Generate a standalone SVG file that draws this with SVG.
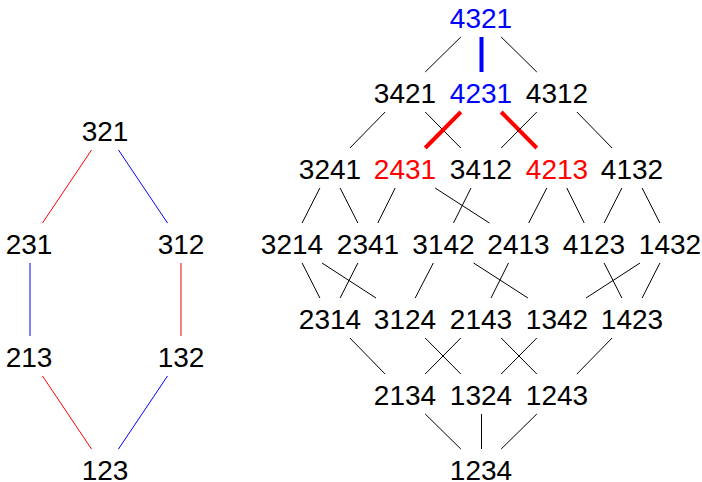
<svg xmlns="http://www.w3.org/2000/svg" width="702" height="482" viewBox="0 0 702 482">
<style>
text{font-family:"Liberation Sans",Arial,sans-serif;font-size:28px;text-anchor:middle;fill:#000}
.b{fill:#0000ff}.r{fill:#ff0000}
line{stroke:#000;stroke-width:1}
.lr{stroke:#ff0000}.lb{stroke:#0000ff}
.tb{stroke:#0000ff;stroke-width:4}.tr{stroke:#ff0000;stroke-width:4}
</style>
<rect width="702" height="482" fill="#fff"/>
<g id="connectors">
<line class="lr" x1="91.5" y1="150" x2="42.5" y2="223"/>
<line class="lb" x1="118.5" y1="150" x2="167.5" y2="223"/>
<line class="lb" x1="30" y1="263" x2="30" y2="336"/>
<line class="lr" x1="181" y1="263" x2="181" y2="336"/>
<line class="lr" x1="42.5" y1="376" x2="91.5" y2="449"/>
<line class="lb" x1="167.5" y1="376" x2="118.5" y2="449"/>

<line x1="460.8" y1="37" x2="425.2" y2="72"/>
<line class="tb" x1="481.5" y1="37" x2="481.5" y2="72"/>
<line x1="501.2" y1="37" x2="536.8" y2="72"/>

<line x1="385.1" y1="112" x2="349.9" y2="148"/>
<line x1="425.2" y1="112" x2="460.8" y2="148"/>
<line class="tr" x1="460.8" y1="112" x2="425.2" y2="148"/>
<line class="tr" x1="501.2" y1="112" x2="536.8" y2="148"/>
<line x1="536.8" y1="112" x2="501.2" y2="148"/>
<line x1="576.9" y1="112" x2="612.1" y2="148"/>

<line x1="319.9" y1="188" x2="302.1" y2="223"/>
<line x1="340.1" y1="188" x2="357.9" y2="223"/>
<line x1="395.2" y1="188" x2="377.8" y2="223"/>
<line x1="435.1" y1="188" x2="489.4" y2="223"/>
<line x1="471" y1="188" x2="453.5" y2="223"/>
<line x1="546.8" y1="188" x2="528.7" y2="223"/>
<line x1="566.8" y1="188" x2="584.2" y2="223"/>
<line x1="621.9" y1="188" x2="604.1" y2="223"/>
<line x1="642.1" y1="188" x2="659.9" y2="223"/>

<line x1="302.1" y1="263" x2="319.9" y2="298"/>
<line x1="322" y1="263" x2="376" y2="298"/>
<line x1="357.9" y1="263" x2="340.1" y2="298"/>
<line x1="473.6" y1="263" x2="527.9" y2="298"/>
<line x1="433.3" y1="263" x2="415.2" y2="298"/>
<line x1="508.5" y1="263" x2="491" y2="298"/>
<line x1="604.1" y1="263" x2="621.9" y2="298"/>
<line x1="640" y1="263" x2="586" y2="298"/>
<line x1="659.9" y1="263" x2="642.1" y2="298"/>

<line x1="349.9" y1="338" x2="385.1" y2="374"/>
<line x1="425.2" y1="338" x2="460.8" y2="374"/>
<line x1="460.8" y1="338" x2="425.2" y2="374"/>
<line x1="501.2" y1="338" x2="536.8" y2="374"/>
<line x1="536.8" y1="338" x2="501.2" y2="374"/>
<line x1="612.1" y1="338" x2="576.9" y2="374"/>

<line x1="425.2" y1="414" x2="460.8" y2="449"/>
<line x1="481.5" y1="414" x2="481.5" y2="449"/>
<line x1="536.8" y1="414" x2="501.2" y2="449"/>
</g>
<g id="n321"><text x="105" y="141">321</text></g>
<g id="n231"><text x="29" y="254">231</text></g>
<g id="n312"><text x="181" y="254">312</text></g>
<g id="n213"><text x="29" y="367">213</text></g>
<g id="n132"><text x="181" y="367">132</text></g>
<g id="n123"><text x="105" y="480">123</text></g>

<g id="n4321"><text class="b" x="481" y="28">4321</text></g>
<g id="n3421"><text x="405" y="103">3421</text></g>
<g id="n4231"><text class="b" x="481" y="103">4231</text></g>
<g id="n4312"><text x="557" y="103">4312</text></g>
<g id="n3241"><text x="330" y="179">3241</text></g>
<g id="n2431"><text class="r" x="405" y="179">2431</text></g>
<g id="n3412"><text x="481" y="179">3412</text></g>
<g id="n4213"><text class="r" x="557" y="179">4213</text></g>
<g id="n4132"><text x="632" y="179">4132</text></g>
<g id="n3214"><text x="292" y="254">3214</text></g>
<g id="n2341"><text x="368" y="254">2341</text></g>
<g id="n3142"><text x="443.5" y="254">3142</text></g>
<g id="n2413"><text x="518.5" y="254">2413</text></g>
<g id="n4123"><text x="594" y="254">4123</text></g>
<g id="n1432"><text x="670" y="254">1432</text></g>
<g id="n2314"><text x="330" y="329">2314</text></g>
<g id="n3124"><text x="405" y="329">3124</text></g>
<g id="n2143"><text x="481" y="329">2143</text></g>
<g id="n1342"><text x="557" y="329">1342</text></g>
<g id="n1423"><text x="632" y="329">1423</text></g>
<g id="n2134"><text x="405" y="405">2134</text></g>
<g id="n1324"><text x="481" y="405">1324</text></g>
<g id="n1243"><text x="557" y="405">1243</text></g>
<g id="n1234"><text x="481" y="480">1234</text></g>
</svg>
